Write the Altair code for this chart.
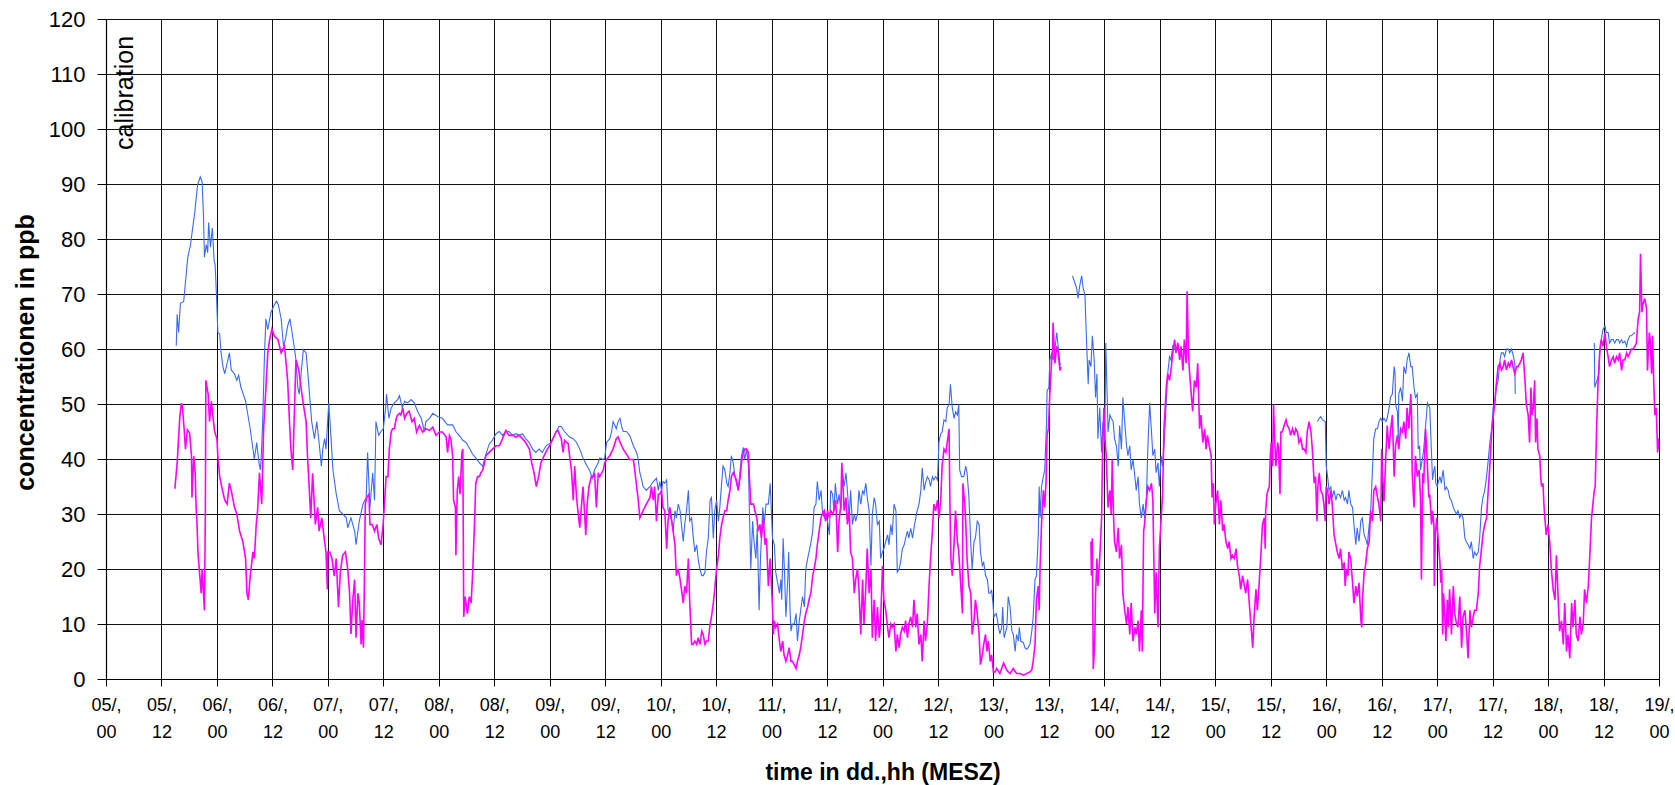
import altair as alt
import pandas as pd

# ---------------- axis values ----------------
X_TICKS = list(range(0, 337, 12))          # hours since 05/00
DAY_LABELS = ["05/,", "05/,", "06/,", "06/,", "07/,", "07/,", "08/,", "08/,", "09/,", "09/,",
              "10/,", "10/,", "11/,", "11/,", "12/,", "12/,", "13/,", "13/,", "14/,", "14/,",
              "15/,", "15/,", "16/,", "16/,", "17/,", "17/,", "18/,", "18/,", "19/,"]
HOUR_LABELS = ["00", "12"] * 14 + ["00"]
Y_TICKS = list(range(0, 121, 10))

CALIB_TEXT = ["calibration"]
CALIB_HOUR = [5.85]
CALIB_PPB = [96.2]

# ---------------- blue series (hour, ppb) ----------------
BLUE_1 = [(15.2,60.6),(15.4,66.3),(15.7,63),(16.1,68.3),(16.8,68.6),(17.7,76.7),(18.3,79),(18.7,81.7),(19.2,84.8),(19.5,87.3),(19.8,89.8),(20.4,91.3),(20.8,90.4),(21.1,84),(21.3,76.7),(21.7,79),(22.0,77.5),(22.2,83),(22.6,78.5),(23.0,82),(23.4,76),(23.6,75.5),(23.9,69.8),(24.2,63),(24.6,62.7),(24.9,59.3),(25.3,56.8),(25.7,55.5),(26.7,59.3),(27.1,56.2),(27.8,55.5),(28.3,54.3),(28.7,55.2),(29.2,53),(29.7,51.8),(30.2,50.5),(30.7,48),(31.2,45.5),(31.6,43),(32.1,40),(32.6,43),(33.1,39.3),(33.4,38),(33.6,40.5),(33.9,46.8),(34.3,59.3),(34.6,65.5),(35.0,63.5),(35.7,66.7),(36.4,68),(36.9,68.7),(37.3,68),(37.9,65.5),(38.4,60.5),(38.8,61.7),(39.3,64.2),(39.8,65.5),(40.7,60.5),(41.1,58),(41.5,53),(41.8,51.8),(42.7,59.9),(43.3,59.3),(43.8,54.3),(44.5,46.8),(45.1,43.7),(45.6,46.8),(46.1,43),(46.6,38.7),
(46.9,41.8),(47.3,43.7),(47.6,41.8),(48.2,50.2),(48.7,43.7),(49.1,38),(49.8,33.7),(50.5,30.6),(51.2,30),(52.0,29.3),(52.3,27.5),(53.0,29.3),(53.8,26.9),(54.1,24.4),(54.8,28.7),(55.6,31.8),(56.3,33),(56.6,41.2),(57.1,31.2),(57.7,37.5),(58.1,32.5),(58.4,46.8),(59.0,44.3),(59.5,45),(60.0,45.5),(60.5,49.3),(60.7,51.8),(61.2,47.4),(61.7,49.3),(62.4,50.2),(63.1,50.8),(63.5,51.5),(64.1,49.3),(64.6,50.5),(65.3,50.2),(66.0,50.8),(66.7,50.2),(67.4,48.7),(68.2,47.4),(68.9,45),(69.2,46.8),(70.0,47.4),(70.7,48.3),(71.8,47.7),(72.8,47.4),(73.9,46.2),(75.0,46.2),(75.7,45),(76.4,44.3),(77.2,43.4),(77.9,43),(78.6,42),(79.3,40.9),(80.0,40.2),(80.8,39.3),(81.5,38.7),(82.2,40.9),(82.9,42.7),(83.6,43.4),(84.4,44.6),(85.1,45),(85.8,44.3),(86.5,45),(87.2,45),(88.0,44.3),(88.7,44.6),(89.4,44.3),(90.1,44.6),(90.8,43.7),(91.6,43),(92.3,41.8),(93.0,41.2),(93.7,41.8),(94.4,41.2),(95.2,42.4),
(96.0,42.8),(96.7,43.7),(97.4,45),(98.0,45.9),(98.5,45.9),(99.2,45),(100.3,44),(101.1,43.7),(101.8,43),(102.5,41.8),(103.2,40.2),(103.9,39),(104.7,37.8),(105.2,36.5),(105.7,38),(106.5,39.3),(106.8,40.2),(107.6,39.9),(107.9,40.2),(108.3,43),(109.0,43.7),(109.4,45),(109.7,46.8),(110.1,46.1),(110.4,45.5),(110.8,46.8),(111.2,47.4),(111.5,46.1),(111.9,45),(112.6,45),(113.3,44.3),(114.1,42.4),(114.8,41.2),(115.1,40.2),(115.5,37.5),(115.9,36.2),(116.2,35),(116.9,34.3),(117.7,35),(118.4,35.9),(119.1,36.5),(119.5,34.3),(119.8,35.9),(120.2,34.3),(120.5,35.9),(120.9,35.6),(121.3,36.2),(121.6,30.6),(122.0,30),(122.4,28.7),(122.7,26.9),(123.1,30.6),(123.4,29.3),(123.8,31.8),(124.2,30.6),(124.5,28.1),(124.9,25),(125.2,28.1),(125.6,30.6),(126.0,34.3),(126.3,28.7),(126.7,29.3),(127.0,26.2),(127.4,23.1),(127.8,24.4),(128.1,21.9),(128.5,20),(128.9,18.8),(129.2,18.8),(129.6,19.4),(129.9,23.1),(130.3,25.6),(130.7,32.5),(131.0,33),(131.4,25.6),(131.7,30.6),(132.1,32.5),(132.5,28.7),(132.8,31.2),(133.2,35.6),(133.5,38.7),(133.9,38),(134.3,35.6),(134.6,35),(135.0,37.5),(135.3,40.6),(135.7,39.3),(136.1,36.8),(136.4,35.6),(136.8,34.3),(137.2,38),(137.5,40.6),(137.9,42.1),(138.2,39.9),(138.6,41.8),(139.0,38.7),(139.2,30.6),(139.5,20),(139.9,28.7),(140.2,25),(140.6,21.9),(140.9,27.4),(141.3,12.5),(141.6,21.9),(142.1,31.2),(142.4,28.1),(142.8,31.8),(143.3,31.8),(143.7,35.6),
(144.2,25.6),(144.6,24.4),(144.9,19.4),(145.3,17.5),(145.7,15.6),(146.0,18.1),(146.2,14.4),(146.5,25.6),(146.8,19.4),(147.1,11.3),(147.5,18.1),(147.7,23.1),(148.0,12.5),(148.2,8.7),(148.5,10),(148.9,10),(149.3,11.9),(149.6,6.9),(150.0,10.6),(150.3,12.5),(150.7,15),(151.1,13.1),(151.4,20),(151.8,21.9),(152.1,23.1),(152.5,24.7),(152.9,26.9),(153.2,31.2),(153.6,31.8),(153.9,35.9),(154.3,32.5),(154.7,34.3),(155.0,30.6),(155.4,29.3),(155.7,30),(156.1,28.7),(156.5,26.2),(156.8,34.3),(157.2,33.6),(157.5,30.6),(157.8,35.6),(158.0,33.6),(158.3,31.8),(158.6,33.6),(159.0,30.6),(159.3,37.8),(159.7,35),(160.1,37.5),(160.4,34.3),(160.8,29.3),(161.1,34.3),(161.5,28.1),(161.9,30),(162.2,28.7),(162.6,30),(162.9,34.3),(163.3,31.8),(163.7,34.3),(164.0,33.6),(164.4,35.6),(164.7,33),(165.1,30.6),(165.5,20.6),(165.8,30),(166.2,33),(166.5,31.8),(166.9,28.1),(167.3,28.7),(167.6,21.9),(168.0,23.1),(168.3,23.7),(168.7,25),(169.1,26.2),(169.4,24.4),(169.8,28.1),(170.1,26.2),(170.5,31.8),(170.9,30.6),(171.2,19.4),(171.6,20),(171.9,21.2),(172.3,23.7),(172.7,24.4),(173.0,25.6),(173.4,26.9),(173.7,25.6),(174.1,27.4),(174.5,25.6),(174.8,27.4),(175.2,29.3),(175.5,30.6),(175.9,31.8),(176.3,34.3),(176.6,38.4),(177.0,34.3),(177.3,35.6),(177.7,36.8),(178.1,36.2),(178.4,35),(178.8,36.8),(179.1,36.2),(179.5,36.8),(179.9,36.2),(180.2,43),(180.6,44.6),(180.9,44.9),(181.3,47.1),(181.7,46.8),(182.0,49.3),(182.4,49.9),(182.7,53.6),(183.1,49.3),(183.5,47.4),(183.8,48.6),(184.2,48),(184.5,49.9),(184.7,38),(185.1,36.8),(185.6,36.8),(186.0,38.7),(186.3,37.5),(186.7,33),(187.1,24.4),(187.4,20),(187.8,25),(188.1,25.6),(188.5,28.7),(188.9,28.1),(189.2,23.1),(189.6,20.6),(189.9,21.2),(190.3,18.8),(190.7,18.1),(191.0,15.6),
(191.3,15.6),(191.6,16.2),(191.9,13.8),(192.1,11.3),(192.6,11.9),(192.9,10.6),(193.1,9.4),(193.4,8.2),(193.8,9.4),(194.0,13.1),(194.3,7.5),(194.5,8.1),(194.9,9.4),(195.2,15),(195.6,13.1),(196.0,8.7),(196.3,8.1),(196.7,5),(197.0,8.1),(197.4,6.9),(197.6,9.4),(197.9,6.9),(198.5,6.6),(198.8,5.7),(199.2,5.4),(199.5,5.7),(199.9,6.3),(200.3,8.7),(200.6,11.3),(201.0,18.1),(201.3,18.7),(201.7,26.2),(201.9,35),(202.1,29.3),(202.4,35),(202.8,36.8),(203.1,38),(203.5,46.8),(203.6,52.4),(204.0,53),(204.2,58),(204.6,59.3),(204.9,58),(205.3,59.9),(205.7,63),(206.0,60.5),(206.4,57.4),(206.6,57.1)]

BLUE_2 = [(209.1,73.3),(209.6,72.1),(210.0,71.1),(210.3,69.2),(210.7,71.6),(211.1,73.3),(211.4,71.1),(211.8,69.8),(212.1,62.4),(212.5,53.6),(212.7,58),(213.1,56.8),(213.4,62.4),(213.8,58),(214.1,51.2),(214.4,55.5),(214.6,43.7),(215.0,49.3),(215.4,41.2),(215.7,46.8),(216.1,43.1),(216.3,61.1),(216.6,51.8),(216.8,44.9),(217.2,48),(217.5,47.4),(217.9,46.8),(218.2,43.7),(218.6,42.4),(219.0,38.7),(219.3,46.1),(219.7,41.8),(220.0,51.2),(220.4,46.8),(220.8,42.4),(221.1,40.6),(221.5,42.4),(221.8,38),(222.2,39.9),(222.6,36.8),(222.9,34.3),(223.3,36.8),(223.6,31.8),(224.0,29.3),(224.4,31.8),(224.7,29.3),(225.1,33),(225.4,41.8),(225.8,50.2),(226.2,44.9),(226.5,40.6),(226.9,41.8),(227.2,37.5),(227.6,39.3),(227.9,35),(228.3,40.6),(228.6,38.7),(229.0,43.7),(229.4,50.5),(229.7,55.5),(230.1,58.6),(230.4,58),(230.8,60.5),(231.2,59.9)]

BLUE_3 = [(262.1,46.8),(262.5,47.4),(262.8,47.7),(263.2,47.1),(263.8,46.8),(264.0,38.7),(264.3,36.8),(264.6,34.3),(265.0,34.9),(265.3,33),(265.7,34.3),(266.1,32.5),(266.4,33.6),(266.8,33.6),(267.1,33),(267.5,34.3),(267.9,32.5),(268.2,33),(268.6,31.8),(268.9,34.3),(269.3,31.8),(269.7,31.2),(270.0,28.1),(270.4,24.4),(270.7,27.5),(271.1,25),(271.5,28.8),(271.8,29.3),(272.2,26.2),(272.5,25.6),(272.9,24.4),(273.3,28.1),(273.6,30),(274.0,38),(274.3,43.7),(274.7,45.5),(275.1,45.5),(275.4,46.8),(275.8,47.4),(276.1,46.8),(276.5,47.4),(276.9,46.8),(277.2,47.4),(277.6,49.3),(277.9,51.2),(278.3,51.8),(278.7,56.8),(278.9,55.5),(279.0,49.9),(279.4,48.6),(279.6,43.7),(279.7,51.8),(280.1,53),(280.5,50.5),(280.8,56.8),(281.2,55.5),(281.5,58),(281.9,59.3),(282.3,56.8),(282.6,56.8),(283.0,53),(283.3,51.2),(283.7,51.8),(283.9,41.8),(284.2,42.4),(284.4,38),(284.8,39.9),(285.1,41.8),(285.5,46.1),(285.9,50.2),(286.4,49.3),(286.8,40.6),(287.0,36.2),(287.3,38),(287.5,38.7),(287.7,35.6),(288.0,35),(288.2,35.6),(288.6,36.8),(288.9,35.6),(289.3,38),(289.7,34.3),(290.0,34.9),(290.4,34.3),(290.7,33),(291.1,32.4),(291.5,31.2),(291.8,30.6),(292.2,30),(292.5,30.6),(292.9,29.3),(293.3,30),(293.6,29.3),(294.0,25.6),(294.3,25),(294.7,24.4),(295.1,23.7),(295.4,25),(295.8,21.9),(296.1,23.1),(296.5,22.5),(296.9,23.1),(297.2,25.6),(297.6,31.2),(297.9,33),(298.3,34.3),(298.7,36.8),(299.0,39.3),(299.4,43),(299.8,45.5),(300.1,49.3),(300.5,50.5),(300.8,53),(301.2,54.3),(301.6,58),(301.9,59.3),(302.3,59.3),(302.6,58.6),(303.0,60),(303.4,60),(303.7,59.3),(304.1,60),(304.4,59),(304.8,57.4),(304.9,51.8)]

BLUE_4 = [(322.0,61.1),(322.1,53),(322.3,53.6),(322.6,54.3),(323.0,55.5),(323.2,59.3),(323.5,61.7),(323.9,63.6),(324.3,64.2),(324.6,63),(325.0,63),(325.3,61.1),(325.7,61.7),(326.1,61.7),(326.4,61.1),(326.8,61.7),(327.2,61.7),(327.5,61.1),(327.9,61.7),(328.2,61.1),(328.6,61.4),(329.0,60.5),(329.3,61.7),(329.7,62.4),(330.0,62.4),(330.4,62.7),(330.8,63)]

# ---------------- magenta series (hour, ppb) ----------------
MAGENTA_1 = [(14.9,34.6),(15.4,39.3),(15.7,43.7),(16.0,48),(16.3,50),(16.5,49.9),(16.9,45.5),(17.2,41.8),(17.6,45.3),(18.1,44.7),(18.5,40.5),(18.6,33),(19.0,40.5),(19.3,37.4),(19.5,31.2),(19.7,28),(19.9,23),(20.3,18.7),(20.6,15.6),(20.8,20),(21.0,17),(21.3,12.5),(21.5,30.6),(21.6,54.3),(22.1,51.8),(22.4,46.8),(22.8,50.5),(23.1,48),(23.5,45),(24.0,43.7),(24.2,40.5),(24.6,36.8),(25.2,34.3),(25.7,32.5),(26.2,31.8),(26.7,35.6),(27.1,34.3),(27.8,31.2),(28.3,30),(28.9,26.9),(29.6,25),(30.2,21.9),(30.5,15.6),(30.8,14.4),(31.2,18.7),(31.8,23.1),(32.1,21.9),(32.5,28.1),(32.8,30.6),(33.2,37.5),(33.7,31.8),(34.1,45.5),(34.6,53),(35.0,59.3),(35.4,61.7),(35.9,63.6),(36.4,62.4),(37.2,61.7),(37.9,59.3),(38.6,60.5),(38.9,58),(39.3,54.3),(39.7,46.8),(40.0,41.8),(40.4,38),(40.7,46.8),(41.1,58),(41.7,56.2),(42.2,53),(42.7,49.9),(43.3,46.8),(43.6,40.5),(44.0,34.3),(44.3,29.3),(44.7,37.4),(45.3,28.1),(45.8,31.2),(46.1,26.9),(46.7,29.3),(47.2,25.6),(47.6,23.1),(47.9,16.3),
(48.0,23.1),(48.4,23.1),(48.9,21.9),(49.4,18.7),(49.8,21.9),(50.3,13.1),(50.7,19.4),(51.2,22.5),(51.8,23.1),(52.3,20),(52.7,15.6),(53.0,8.2),(53.4,14.4),(53.8,18.1),(54.1,7.5),(54.5,15.6),(54.8,13.8),(55.2,6.3),(55.4,10.7),(55.7,5.7),(55.9,17.5),(56.1,31.8),(56.4,33),(56.9,33.6),(57.1,28.1),(57.6,28.1),(58.1,26.9),(58.6,28.1),(59.0,25.6),(59.5,24.4),(59.9,27.5),(60.2,31.2),(60.6,36.8),(61.0,36.8),(61.3,41.8),(61.7,44.9),(62.0,45.5),(62.4,45.5),(62.8,47.4),(63.1,48),(63.5,48.3),(63.8,48),(64.2,49.3),(64.6,47.4),(65.1,48.3),(65.6,48.7),(66.2,46.8),(66.7,47.4),(67.2,44.9),(67.8,46.1),(68.5,44.9),(69.2,45.5),(70.0,45.2),(70.7,45.8),(71.4,44.3),(72.1,44.9),(72.8,44.9),(73.6,44),(73.9,41.2),(74.3,44.3),(74.6,43.7),(75.0,40.6),(75.2,32.5),(75.6,31.2),(75.7,22.5),(76.0,34.3),(76.3,36.8),(76.6,33.6),(77.0,41.2),(77.2,41.8),(77.4,11.3),(77.7,15),(78.2,11.9),(78.6,15),(79.0,13.8),(79.3,18.8),(79.5,23.1),(79.8,30),(80.0,35.6),(80.4,36.8),(80.8,36.8),(81.1,37.5),(81.5,38),(81.8,39),(82.2,40.6),(82.9,41.2),(83.6,41.8),(84.4,42.4),(85.1,42.4),(85.8,43.7),(86.5,45.2),(87.2,44.3),(88.0,44.3),(88.7,44),(89.4,44.3),(90.1,43.7),(90.8,43),(91.6,41.8),(92.1,39.3),(92.6,37.5),(93.1,35),(93.6,36.8),(94.1,39.3),(94.8,40.6),(95.5,41.8),
(96.0,42.4),(96.7,43.7),(97.4,45),(97.8,45.2),(98.2,44.3),(98.5,43.7),(98.9,41.2),(99.2,43.4),(100.0,42.8),(100.3,40.6),(100.7,38),(101.1,32.5),(101.4,38.7),(101.8,33),(102.1,30.6),(102.5,27.5),(102.9,31.8),(103.2,35),(103.6,29.3),(103.8,26.2),(104.1,31.8),(104.5,35),(105.0,36.8),(105.4,36.8),(105.7,37.5),(106.1,31.2),(106.5,37.5),(106.8,36.8),(107.6,38),(107.9,39.3),(108.3,39.9),(109.0,40.6),(109.7,41.8),(110.4,43.7),(110.8,44),(111.2,43.1),(111.9,41.8),(112.6,40.9),(113.3,39.9),(114.1,39.9),(114.4,38),(114.8,35),(115.1,33),(115.5,29.3),(116.2,30.6),(116.9,31.8),(117.7,33),(118.0,35),(118.4,32.5),(118.7,35),(119.1,28.7),(119.5,33.6),(119.8,33.6),(120.2,34.3),(120.5,31.2),(120.9,30.6),(121.3,23.7),(121.6,28.7),(122.0,31.2),(122.4,28.7),(122.7,26.9),(123.1,24.4),(123.4,18.8),(123.8,20),(124.2,18.1),(124.5,16.3),(124.9,13.8),(125.2,16.9),(125.6,15.6),(126.0,21.9),(126.3,13.8),(126.7,6.3),(127.0,6.3),(127.4,6.9),(127.8,6.3),(128.1,7.5),(128.5,6.3),(128.9,8.7),(129.2,8.1),(129.6,6.3),(129.9,6.9),(130.3,6.9),(130.7,10),(131.0,11.3),(131.4,13.8),(131.7,16.3),(132.1,20),(132.5,22.5),(132.8,25.6),(133.2,28.1),(133.5,29.3),(133.9,30.6),(134.3,30.6),(134.6,32.5),(135.0,34.3),(135.3,36.8),(135.7,37.5),(136.4,36.2),(136.8,34.3),(137.2,36.8),(137.5,39.3),(137.9,41.2),(138.2,41.8),(138.6,41.8),(139.0,41.2),(139.2,36.8),(139.5,31.8),(140.1,31.8),(140.4,30.6),(140.8,29.3),(141.1,26.9),(141.5,28.1),(141.8,25.6),(142.2,29.3),(142.6,24.4),(142.9,25.6),(143.3,16.9),(143.7,21.9),
(144.2,13.1),(144.4,8.1),(144.6,10.6),(144.9,9.4),(145.3,10),(145.7,6.9),(146.0,5),(146.4,6.9),(146.7,4.4),(147.1,3.2),(147.5,4.4),(147.8,5.7),(148.2,3.2),(148.5,3.2),(148.9,2.6),(149.3,1.9),(149.6,3.2),(150.0,4.4),(150.3,5.7),(150.7,8.1),(151.1,10.6),(151.4,11.9),(151.8,13.1),(152.1,14.4),(152.5,15.6),(152.9,18.8),(153.2,20),(153.6,21.9),(153.9,24.4),(154.3,26.9),(154.7,29.3),(155.0,30),(155.4,30.6),(155.7,28.7),(156.1,30.6),(156.5,29.3),(156.8,30.6),(157.2,30),(157.5,30.6),(157.9,32.5),(158.3,23.1),(158.6,28.7),(159.0,31.8),(159.2,39.3),(159.5,34.3),(159.7,30.6),(160.1,33),(160.4,28.1),(160.8,30.6),(161.1,23.1),(161.5,21.9),(161.9,15.6),(162.2,18.1),(162.6,20),(162.9,16.3),(163.3,8.1),(163.7,18.1),(164.0,10),(164.4,16.9),(164.7,23.7),(165.1,15.6),(165.5,20),(165.8,7.5),(166.2,14.4),(166.5,6.9),(166.9,13.1),(167.3,7.5),(167.6,10.6),(168.0,20.6),(168.3,14.4),(168.7,12.5),(169.1,9.4),(169.4,7.5),(169.8,10),(170.1,9.4),(170.5,10),(170.9,5),(171.2,8.1),(171.6,5.7),(171.9,8.1),(172.3,9.4),(172.7,8.7),(173.0,10.6),(173.4,7.5),(173.7,10),(174.1,11.3),(174.5,9.4),(174.8,14.4),(175.2,9.4),(175.5,11.9),(175.9,6.3),(176.3,8.1),(176.6,3.2),(177.0,10.6),(177.3,6.9),(177.7,10),(178.1,17.5),(178.4,21.9),(178.8,26.9),(179.1,31.8),(179.5,30.6),(179.9,32.5),(180.2,29.3),(180.6,32.5),(180.9,38.7),(181.3,41.8),(181.7,41.2),(182.0,43),(182.4,45.5),(182.6,31.2),(182.8,21.9),(183.1,18.8),(183.5,25),(183.8,30.6),(184.2,25),(184.5,23.1),(184.9,17.5),(185.3,11.9),(185.4,35.6),(185.8,31.8),(186.0,28.7),(186.3,21.9),(186.7,16.9),(187.1,15.6),(187.4,8.1),(187.8,10.6),(188.1,14.4),(188.5,11.9),(188.9,8.1),(189.2,2.6),(189.6,4.4),(189.9,6.3),(190.3,8.1),(190.6,5),(190.9,6.9),(191.3,3.2),(191.6,4.4),
(192.0,1.3),(192.4,1.3),(192.7,1.9),(193.4,1),(194.2,2.9),(194.9,1.6),(195.6,1),(196.3,1.9),(197.0,1),(197.8,1),(198.5,0.7),(199.2,1),(199.9,1.3),(200.3,1.6),(200.6,3.2),(201.0,6.3),(201.3,14.4),(201.7,16.9),(201.9,12.5),(202.1,20.5),(202.4,28.1),(202.8,34.3),(203.1,31.2),(203.4,36.2),(203.6,44.3),(203.9,45.5),(204.2,51.8),(204.6,58),(204.8,59.9),(204.9,64.8),(205.3,57.4),(205.7,60.5),(206.0,59.3),(206.4,56.1),(206.6,56.8)]

MAGENTA_2 = [(213.1,25),(213.2,18.8),(213.4,25.6),(213.6,1.8),(213.9,6.3),(214.1,15.6),(214.4,21.9),(214.6,16.9),(215.0,21.9),(215.4,29.3),(215.6,40.6),(215.9,49.3),(216.1,44.3),(216.4,40.6),(216.8,31.2),(217.2,34.3),(217.5,30),(217.7,39.9),(218.0,29.3),(218.2,25),(218.6,23.1),(219.0,27.5),(219.3,21.9),(219.7,24.4),(220.0,15.6),(220.4,12.5),(220.8,10),(221.1,13.1),(221.5,8.1),(221.8,13.8),(222.2,6.9),(222.6,9.4),(222.9,8.1),(223.3,10.6),(223.6,5),(224.0,12.5),(224.2,5),(224.5,26.9),(224.7,28.1),(225.1,32.5),(225.4,35),(225.8,34.3),(226.2,35.6),(226.5,32.5),(226.9,11.9),(227.2,19.4),(227.6,9.4),(227.9,23.7),(228.3,29.3),(228.6,33.6),(228.9,45.5),(229.2,49.9),(229.4,53),(229.7,55.5),(230.1,54.3),(230.5,56.8),(230.8,59.3),(231.2,61.7),(231.5,59.3),(231.9,61.1),(232.3,58),(232.6,60.5),(233.0,56.1),(233.3,61.7),(233.7,57.4),(233.9,70.5),(234.2,59.3),(234.4,56.1),(234.8,51.8),(235.1,48.7),(235.5,54.3),(235.9,53),(236.2,57.4),(236.6,45.5),(236.9,48),(237.3,43),(237.7,45.5),(238.0,41.8),(238.3,44.3),(238.7,42.4),(239.1,40.6),(239.3,33),(239.6,35.6),(239.8,28.1),(240.1,31.8),(240.5,34.3),(240.9,28.1),(241.2,32.5),(241.6,26.9),(241.9,28.1),(242.3,25),(242.7,23.7),(243.0,25),(243.4,21.9),(243.7,22.5),(244.1,21.9),(244.5,23.7),(244.8,20.6),(245.2,18.8),(245.5,16.3),(245.9,18.8),(246.3,16.9),(246.6,15.6),(247.0,18.1),(247.3,14.4),(247.7,10),(248.1,5.7),(248.4,11.3),(248.8,16.3),(249.1,12.5),(249.5,17.5),(249.9,23.1),(250.2,28.1),(250.6,29.3),(250.8,23.7),(250.9,30.6),(251.2,33.6),(251.4,34.3),(251.7,35),(251.9,40.6),(252.1,43),(252.4,38.7),(252.6,49.9),(252.8,44.9),(253.1,38.7),(253.5,43),(253.7,41.8),(254.0,33.6),(254.2,44.9),(254.5,44.9),(254.9,46.1),(255.3,47.1),(255.6,46.1),(256.0,45.5),(256.3,44.3),(256.7,45.5),(257.1,44.3),(257.4,45.5),(257.8,44.9),(258.1,43),(258.5,43.7),(258.9,41.8),(259.2,41.8),(259.6,41.2),(259.9,45),(260.3,46.8),(260.7,44.9),(261.0,41.8),(261.4,35.6),(261.7,36.8),(262.0,28.7),(262.2,34.9),(262.5,37.5),(262.8,34.3),(263.2,33.6),(263.5,31.8),(263.8,28.7),(264.0,35),(264.3,34.3),(264.6,31.8),(265.0,34.3),(265.3,31.8),(265.7,26.2),(266.1,24.4),(266.4,23.1),(266.8,21.9),(267.1,23.7),(267.5,20),(267.9,21.2),(268.1,16.9),(268.4,20),(268.7,18.8),(268.9,23.1),(269.3,21.9),(269.7,17.5),(270.0,13.8),(270.4,16.9),(270.7,15),(271.1,17.5),(271.5,10.6),(271.7,9.4),(271.8,13.8),(272.2,19.4),(272.5,20.6),(272.9,23.7),(273.3,25),(273.6,30.6),(274.0,28.7),(274.3,34.3),(274.7,35),(275.1,33),(275.4,31.8),(275.8,28.7),(276.0,41.8),(276.1,38.7),(276.5,32.3),(276.9,40.6),(277.2,46.1),(277.6,41.8),(277.9,44.9),(278.3,48),(278.7,36.8),(279.0,42.4),(279.4,44.3),(279.7,41.8),(280.1,45.5),(280.5,44.9),(280.8,46.8),(281.2,43.7),(281.5,49.3),(281.9,45.5),(282.3,51.8),(282.5,46.8),(282.6,37.5),(283.0,31.2),(283.3,40.6),(283.7,36.8),(284.1,38),(284.4,33),(284.6,18.1),(284.9,37.4),(285.1,35.6),(285.5,45.5),(285.9,38.7),(286.2,33),(286.4,33.6),(286.8,28.1),(287.0,30.6),(287.3,28.1),(287.4,16.9),(287.6,26.2),(287.9,29.3),(288.2,25.6),(288.6,21.2),(288.8,17.5),(289.0,20),(289.2,8.1),(289.4,15.6),(289.7,10.6),(289.9,6.9),(290.2,14.4),(290.4,9.4),(290.7,16.3),(291.1,8.1),(291.5,16.9),(291.8,11.9),(292.2,10),(292.5,9.4),(292.9,15),(293.3,5.7),(293.6,11.3),(294.0,12.5),(294.3,9.4),(294.7,3.8),(295.1,12.5),(295.4,9.4),(295.8,11.3),(296.1,12.5),(296.5,12.5),(296.9,15.6),(297.2,20.6),(297.6,23.7),(297.9,26.2),(298.3,28.1),(298.7,29.3),(299.0,33.6),(299.4,38.7),(299.8,44.9),(300.1,47.4),(300.5,50.5),(300.8,53.6),(301.2,56.8),(301.6,57.4),(301.9,56.2),(302.3,56.8),(302.6,58),(303.0,56.2),(303.4,57.4),(303.7,56.8),(304.1,58),(304.4,56.8),(304.8,55.5),(305.2,56.8),(305.5,56.8),(305.9,57.4),(306.2,58),(306.6,59.3),(306.8,56.8),(307.0,54.3),(307.3,49.9),(307.7,48),(308.0,43),(308.3,53),(308.5,48),(308.8,49.3),(309.1,54.3),(309.3,43),(309.6,47.4),(309.8,41.8),(310.2,40.6),(310.4,36.8),(310.6,35),(310.9,35.6),(311.1,31.8),(311.3,29.3),(311.6,26.2),(312.0,28.1),(312.4,24.4),(312.7,20),(313.1,16.3),(313.5,14.4),(313.8,22.5),(314.2,14.4),(314.5,8.7),(314.9,10.6),(315.3,6.3),(315.6,13.8),(316.0,5),(316.3,8.1),(316.7,3.8),(317.1,13.8),(317.4,9.4),(317.8,14.4),(318.1,8.1),(318.5,6.9),(318.9,11.3),(319.2,8.1),(319.6,10),(319.9,16.3),(320.3,13.8),(320.7,16.9),(321.0,21.9),(321.4,29.3),(321.7,31.8),(322.0,34.3),(322.2,35),(322.5,45.5),(322.8,53.6),(323.2,59.9),(323.5,61.7),(323.9,60.5),(324.3,63),(324.6,60.5),(325.0,58.6),(325.3,56.8),(325.7,58),(326.1,58.6),(326.4,57.4),(326.8,58.6),(327.2,58),(327.5,59.3),(327.9,56.1),(328.2,58),(328.6,58),(329.0,59.3),(329.3,58.6),(329.7,59.3),(330.0,60),(330.4,60),(330.8,60.5),(331.1,61.1),(331.5,65.5),(331.8,66.7),(332.0,77.3),(332.3,66.7),(332.5,68),(332.9,69.2),(333.3,67.4),(333.5,56.1),(333.9,63),(334.1,61.7),(334.4,55.5),(334.6,62.4),(334.9,53),(335.1,48),(335.4,49.3),(335.7,41.2),(335.9,43.7),(336.0,41.8)]

BLUE_COLOR = "#3a6af2"
MAGENTA_COLOR = "#ff00ff"


def frame(segments, series):
    rows = []
    for name, pts in segments.items():
        for h, v in pts:
            rows.append({"hour": h, "ppb": v, "seg": name, "series": series})
    return pd.DataFrame(rows)


blue_df = frame({"b1": BLUE_1, "b2": BLUE_2, "b3": BLUE_3, "b4": BLUE_4}, "blue")
mag_df = frame({"m1": MAGENTA_1, "m2": MAGENTA_2}, "magenta")

label_expr = "[" + ",".join(f"['{d}','{h}']" for d, h in zip(DAY_LABELS, HOUR_LABELS)) + "][round(datum.value/12)]"

x_enc = alt.X(
    "hour:Q",
    scale=alt.Scale(domain=[0, 336], nice=False, zero=False),
    axis=alt.Axis(
        values=X_TICKS, labelExpr=label_expr, title="time in dd.,hh (MESZ)",
        grid=True, gridColor="#111111", gridWidth=1, tickSize=7,
        labelFontSize=18, labelLineHeight=27, labelPadding=10, labelBaseline="top",
        labelFlush=False, labelOverlap=False,
        titleFontSize=23, titleFontWeight="bold", titleBaseline="alphabetic",
        titleY=100,
    ),
)
y_enc = alt.Y(
    "ppb:Q",
    scale=alt.Scale(domain=[0, 120], nice=False),
    axis=alt.Axis(
        values=Y_TICKS, title="concentrationen in ppb", grid=True,
        gridColor="#111111", gridWidth=1, tickSize=9, labelFontSize=22,
        labelPadding=12, labelOverlap=False, labelFlush=False,
        titleFontSize=25, titleFontWeight="bold", titleAngle=270,
        titleBaseline="alphabetic", titleAlign="center", titleX=-73, titleY=333,
    ),
)

blue = alt.Chart(blue_df).mark_line(strokeWidth=1.1, color=BLUE_COLOR, clip=True).encode(
    x=x_enc, y=y_enc, detail="seg:N", order="hour:Q"
)
magenta = alt.Chart(mag_df).mark_line(strokeWidth=1.6, color=MAGENTA_COLOR, clip=True).encode(
    x="hour:Q", y="ppb:Q", detail="seg:N", order="hour:Q"
)

calib_df = pd.DataFrame({"hour": CALIB_HOUR, "ppb": CALIB_PPB, "text": CALIB_TEXT})
calib = alt.Chart(calib_df).mark_text(
    angle=270, align="left", baseline="alphabetic", fontSize=25,
    font="Liberation Sans", color="#000000"
).encode(x="hour:Q", y="ppb:Q", text="text:N")

chart = alt.layer(blue, magenta, calib).properties(
    width=1553, height=660,
    autosize=alt.AutoSizeParams(type="none"),
    padding={"left": 106, "top": 19, "right": 16, "bottom": 106},
    background="white",
).configure_view(stroke=None).configure_axis(
    labelFont="Liberation Sans", titleFont="Liberation Sans",
    labelColor="#000000", titleColor="#000000",
    domainColor="#000000", tickColor="#000000", domainWidth=1.2,
)

chart.save("out.html", embed_options={"renderer": "svg", "actions": False})
